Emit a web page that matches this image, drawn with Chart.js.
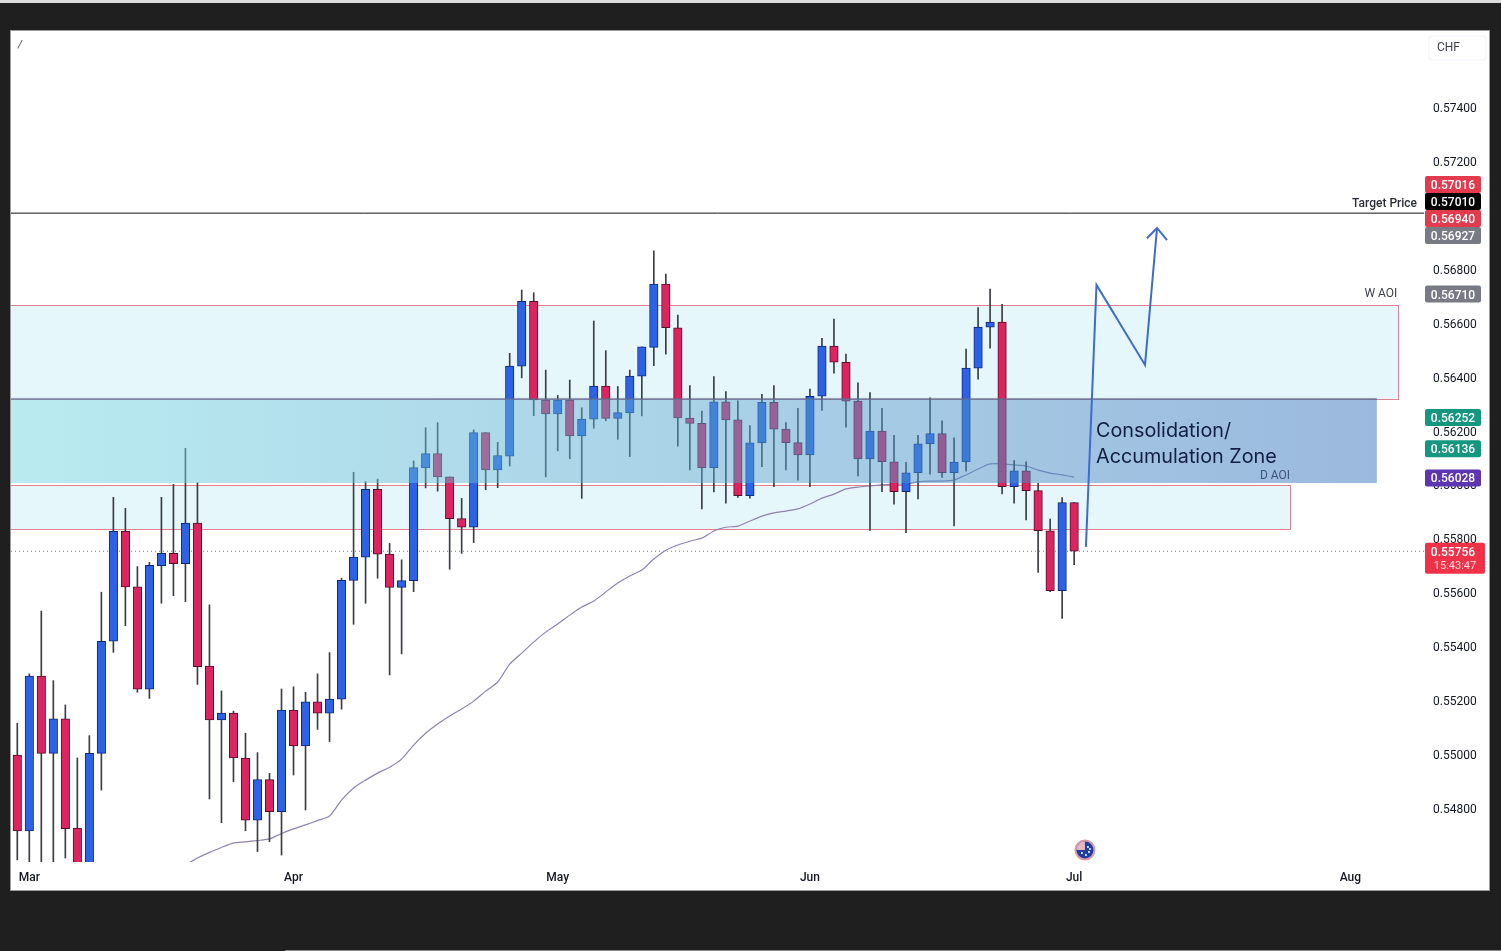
<!DOCTYPE html>
<html>
<head>
<meta charset="utf-8">
<title>AUDCHF</title>
<script src="https://cdn.jsdelivr.net/npm/chart.js@4/dist/chart.umd.min.js"></script>
<style>
  html, body { margin: 0; height: 100%; background: #1f1f1f; overflow: hidden; }
  #topStrip { position: absolute; left: 0; top: 0; width: 1501px; height: 3px; background: #dcdcdc; }
  #bottomStrip { position: absolute; left: 285px; top: 950px; width: 1216px; height: 1px; background: #8a8a8a; }
  #panel { position: absolute; left: 11px; top: 31px; width: 1478px; height: 859px; background: #fff; outline: 1px solid #9a9a9a; }
  canvas { display: block; }
</style>
</head>
<body>
<div id="topStrip"></div>
<div id="bottomStrip"></div>
<div id="panel"><canvas id="priceChart" width="1478" height="859"></canvas></div>
<script>
// daily candles, oldest first
const opens = [
  0.55000, 0.54719, 0.55293, 0.55006, 0.55134, 0.54729, 0.54560, 0.55006, 0.55422, 0.55830,
  0.55624, 0.55244, 0.55702, 0.55748, 0.55710, 0.55860, 0.55330, 0.55130, 0.55156, 0.54989,
  0.54758, 0.54909, 0.54790, 0.55167, 0.55034, 0.55197, 0.55155, 0.55207, 0.55648, 0.55734,
  0.55986, 0.55745, 0.55622, 0.55647, 0.56065, 0.56118, 0.56032, 0.55877, 0.55845, 0.56196,
  0.56058, 0.56109, 0.56442, 0.56683, 0.56317, 0.56265, 0.56317, 0.56184, 0.56246, 0.56369,
  0.56249, 0.56269, 0.56405, 0.56512, 0.56747, 0.56585, 0.56250, 0.56230, 0.56066, 0.56310,
  0.56243, 0.55962, 0.56158, 0.56308, 0.56209, 0.56159, 0.56113, 0.56331, 0.56517, 0.56457,
  0.56313, 0.56098, 0.56202, 0.56088, 0.55977, 0.56047, 0.56154, 0.56192, 0.56047, 0.56087,
  0.56435, 0.56587, 0.56606, 0.55995, 0.56054, 0.55981, 0.55832, 0.55610, 0.55936
];
const highs = [
  0.55118, 0.55301, 0.55534, 0.55276, 0.55186, 0.54989, 0.55072, 0.55604, 0.55956, 0.55915,
  0.55699, 0.55715, 0.55956, 0.56004, 0.56138, 0.56010, 0.55557, 0.55238, 0.55163, 0.55081,
  0.55009, 0.54932, 0.55245, 0.55253, 0.55233, 0.55301, 0.55380, 0.55656, 0.56049, 0.56014,
  0.56023, 0.55785, 0.55724, 0.56091, 0.56214, 0.56233, 0.56032, 0.55952, 0.56206, 0.56196,
  0.56160, 0.56490, 0.56725, 0.56715, 0.56428, 0.56334, 0.56391, 0.56288, 0.56610, 0.56500,
  0.56367, 0.56428, 0.56514, 0.56870, 0.56784, 0.56632, 0.56370, 0.56276, 0.56404, 0.56348,
  0.56314, 0.56222, 0.56338, 0.56370, 0.56233, 0.56286, 0.56357, 0.56546, 0.56617, 0.56487,
  0.56381, 0.56344, 0.56286, 0.56186, 0.56086, 0.56186, 0.56325, 0.56240, 0.56177, 0.56506,
  0.56660, 0.56728, 0.56672, 0.56092, 0.56088, 0.56008, 0.55875, 0.55955, 0.55936
];
const lows = [
  0.54611, 0.54570, 0.54570, 0.54580, 0.54618, 0.54500, 0.54500, 0.54870, 0.55381, 0.55480,
  0.55233, 0.55210, 0.55563, 0.55591, 0.55569, 0.55262, 0.54837, 0.54749, 0.54901, 0.54719,
  0.54642, 0.54679, 0.54629, 0.54926, 0.54796, 0.55095, 0.55050, 0.55170, 0.55485, 0.55563,
  0.55656, 0.55297, 0.55375, 0.55606, 0.55991, 0.55979, 0.55689, 0.55748, 0.55788, 0.55984,
  0.55992, 0.56072, 0.56399, 0.56259, 0.56032, 0.56128, 0.56099, 0.55952, 0.56212, 0.56240,
  0.56171, 0.56107, 0.56258, 0.56444, 0.56487, 0.56146, 0.56058, 0.55913, 0.55976, 0.55934,
  0.55956, 0.55953, 0.56070, 0.55995, 0.56058, 0.56020, 0.55995, 0.56278, 0.56416, 0.56216,
  0.56035, 0.55833, 0.55977, 0.55931, 0.55825, 0.55950, 0.56042, 0.56030, 0.55850, 0.56053,
  0.56394, 0.56509, 0.55969, 0.55934, 0.55872, 0.55677, 0.55606, 0.55507, 0.55706
];
const closes = [
  0.54719, 0.55293, 0.55006, 0.55134, 0.54727, 0.54560, 0.55006, 0.55422, 0.55830, 0.55624,
  0.55244, 0.55704, 0.55748, 0.55710, 0.55860, 0.55328, 0.55130, 0.55156, 0.54989, 0.54758,
  0.54909, 0.54790, 0.55167, 0.55034, 0.55197, 0.55155, 0.55208, 0.55648, 0.55734, 0.55986,
  0.55745, 0.55622, 0.55647, 0.56066, 0.56118, 0.56032, 0.55877, 0.55845, 0.56196, 0.56058,
  0.56111, 0.56443, 0.56683, 0.56317, 0.56265, 0.56317, 0.56184, 0.56246, 0.56369, 0.56249,
  0.56270, 0.56406, 0.56514, 0.56747, 0.56585, 0.56250, 0.56230, 0.56066, 0.56310, 0.56243,
  0.55962, 0.56158, 0.56308, 0.56209, 0.56159, 0.56113, 0.56331, 0.56517, 0.56457, 0.56313,
  0.56098, 0.56202, 0.56088, 0.55977, 0.56047, 0.56154, 0.56192, 0.56047, 0.56087, 0.56435,
  0.56587, 0.56606, 0.55995, 0.56054, 0.55981, 0.55832, 0.55610, 0.55936, 0.55756
];

// moving average, starts at candle 14
const maStart = 14;
const maValues = [
  0.54592, 0.54618, 0.54639, 0.54657, 0.54674, 0.54678, 0.54683, 0.54689, 0.54709, 0.54726,
  0.54741, 0.54757, 0.54774, 0.54833, 0.54878, 0.54907, 0.54933, 0.54955, 0.54985, 0.55037,
  0.55081, 0.55115, 0.55145, 0.55171, 0.55200, 0.55237, 0.55271, 0.55337, 0.55378, 0.55419,
  0.55456, 0.55486, 0.55519, 0.55549, 0.55571, 0.55605, 0.55638, 0.55664, 0.55686, 0.55727,
  0.55760, 0.55779, 0.55793, 0.55805, 0.55831, 0.55845, 0.55849, 0.55868, 0.55886, 0.55898,
  0.55905, 0.55913, 0.55931, 0.55953, 0.55968, 0.55987, 0.55994, 0.55998, 0.56002, 0.56005,
  0.56005, 0.56013, 0.56016, 0.56016, 0.56020, 0.56039, 0.56061, 0.56080, 0.56080, 0.56076,
  0.56072, 0.56057, 0.56046, 0.56039, 0.56031
];

// axis ticks
const priceTicks = [0.574, 0.572, 0.570, 0.568, 0.566, 0.564, 0.562, 0.560, 0.558, 0.556, 0.554, 0.552, 0.550, 0.548];
const monthIndex = [1, 23, 45, 66, 88, 111];
const monthLabels = ['Mar', 'Apr', 'May', 'Jun', 'Jul', 'Aug'];
const xMin = -0.5245, xMax = 117.13;
const yMin = 0.546033, yMax = 0.576856;

// drawn levels and the projected path
const targetPrice = 0.5701;
const lastPrice = 0.55756;
const countdown = '15:43:47';
const pathX = [88.98, 89.86, 93.9, 94.9];
const pathY = [0.55772, 0.56744, 0.56447, 0.56955];
const headX = [94.06, 94.9, 95.73];
const headY = [0.56917, 0.56955, 0.56910];

// zones: weekly and daily areas of interest, and the consolidation band
const weeklyZone = { x1: xMin, x2: 114.96, top: 0.56669, bottom: 0.56321 };
const dailyZone = { x1: xMin, x2: 105.97, top: 0.56002, bottom: 0.55838 };
const consolidationZone = { x1: xMin, x2: 113.2, top: 0.56321, bottom: 0.56009 };

// price tags on the axis
const tagPrices = [0.56028, 0.56136, 0.56252, 0.56710, 0.56927, 0.56940, 0.57010, 0.57016];
const tagColors = ['#5e35b1', '#15967f', '#15967f', '#787b86', '#787b86', '#e23b4e', '#000000', '#e23b4e'];

const UP = '#2e62e4', UP_EDGE = '#0c2a78';
const DOWN = '#db2560', DOWN_EDGE = '#5a0c2c';
const WICK = '#3a3d44';
const FONT = 'Roboto, sans-serif';

const bodyData = opens.map((o, i) => ({ x: i, y: [o, closes[i]] }));
const wickData = lows.map((l, i) => ({ x: i, y: [l, highs[i]] }));
const maData = maValues.map((v, i) => ({ x: i + maStart, y: v }));
const toPoints = (xs, ys) => xs.map((x, i) => ({ x: x, y: ys[i] }));

function drawZone(chart, zone, fill, stroke) {
    const { ctx, scales: { x, y } } = chart;
    const left = x.getPixelForValue(zone.x1), right = Math.round(x.getPixelForValue(zone.x2));
    const top = Math.round(y.getPixelForValue(zone.top)), bottom = Math.round(y.getPixelForValue(zone.bottom));
    ctx.fillStyle = fill;
    ctx.fillRect(left, top, right - left, bottom - top);
    ctx.strokeStyle = stroke;
    ctx.lineWidth = 1;
    ctx.strokeRect(left - 1, top + 0.5, right - left + 1.5, bottom - top);
}

function drawTag(ctx, left, top, w, h, color) {
    ctx.fillStyle = color;
    ctx.beginPath();
    ctx.roundRect(left, top, w, h, 2);
    ctx.fill();
}

function drawFlag(ctx, cx, cy) {
    ctx.beginPath();
    ctx.arc(cx, cy, 10.5, 0, Math.PI * 2);
    ctx.fillStyle = '#dd9aa6';
    ctx.fill();
    ctx.beginPath();
    ctx.arc(cx, cy, 8.5, 0, Math.PI * 2);
    ctx.fillStyle = '#1f3f9e';
    ctx.fill();
    ctx.beginPath();
    ctx.moveTo(cx, cy);
    ctx.arc(cx, cy, 8.5, Math.PI, Math.PI * 1.5);
    ctx.fillStyle = '#e7b6c4';
    ctx.fill();
    ctx.fillStyle = '#fff';
    [[-3, 3], [3, -3], [4, 2], [1, 5], [5, -1]].forEach(p => {
        ctx.beginPath();
        ctx.arc(cx + p[0], cy + p[1], 1, 0, Math.PI * 2);
        ctx.fill();
    });
}

// the scales reserve room for half a label and its padding, the plot has to run to the panel edge
function dropScalePadding(scale) {
    scale.paddingLeft = scale.paddingRight = scale.paddingTop = scale.paddingBottom = 0;
}

const overlays = {
    id: 'overlays',
    beforeDatasetsDraw(chart) {
        drawZone(chart, weeklyZone, 'rgba(178,232,243,0.33)', '#e2808c');
        drawZone(chart, dailyZone, 'rgba(178,232,243,0.33)', '#e2808c');
    },
    afterDatasetDraw(chart, args) {
        // the band sits over the candles but under the projected path
        if (chart.data.datasets[args.index].label !== 'bodies') return;
        const { ctx, scales: { x, y } } = chart;
        const left = x.getPixelForValue(consolidationZone.x1), right = x.getPixelForValue(consolidationZone.x2);
        const top = y.getPixelForValue(consolidationZone.top), bottom = y.getPixelForValue(consolidationZone.bottom);
        const grad = ctx.createLinearGradient(left, 0, right, 0);
        grad.addColorStop(0, 'rgba(115,215,225,0.5)');
        grad.addColorStop(1, 'rgba(55,115,189,0.5)');
        ctx.fillStyle = grad;
        ctx.fillRect(left, top, right - left, bottom - top);
        ctx.fillStyle = 'rgba(95,105,140,0.6)';
        ctx.fillRect(left, top - 1, right - left, 2);
    },
    afterDraw(chart) {
        const { ctx, chartArea, scales: { x, y } } = chart;

        // labels on the chart
        ctx.textBaseline = 'middle';
        ctx.fillStyle = '#3c3f47';
        ctx.font = '12px ' + FONT;
        ctx.textAlign = 'center';
        ctx.fillText('W AOI', x.getPixelForValue(113.54), y.getPixelForValue(weeklyZone.top) - 11);
        ctx.fillStyle = '#3f5578';
        ctx.fillText('D AOI', x.getPixelForValue(104.72), y.getPixelForValue(consolidationZone.bottom) - 7);
        ctx.textAlign = 'right';
        ctx.fillStyle = '#2a2e39';
        ctx.font = '500 12px ' + FONT;
        ctx.fillText('Target Price', x.getPixelForValue(116.55), y.getPixelForValue(targetPrice) - 9);
        ctx.textAlign = 'left';
        ctx.fillStyle = '#101f42';
        ctx.font = '19.8px Inter, sans-serif';
        ctx.fillText('Consolidation/', x.getPixelForValue(89.82), y.getPixelForValue(0.56206) + 1);
        ctx.fillText('Accumulation Zone', x.getPixelForValue(89.82), y.getPixelForValue(0.56109) + 1);

        // tags stack upward when their prices are too close
        const axisLeft = chartArea.right + 1;
        let prevTop = Infinity;
        ctx.font = '500 12px ' + FONT;
        ctx.textAlign = 'center';
        tagPrices.forEach((p, i) => {
            const top = Math.min(y.getPixelForValue(p) - 8.5, prevTop - 17);
            prevTop = top;
            drawTag(ctx, axisLeft, top, 56, 17, tagColors[i]);
            ctx.fillStyle = '#fff';
            ctx.fillText(p.toFixed(5), axisLeft + 28, top + 10);
        });

        // last price with the bar countdown
        const lastY = y.getPixelForValue(lastPrice);
        drawTag(ctx, axisLeft, lastY - 8.5, 60, 31, '#ef3248');
        ctx.fillStyle = '#fff';
        ctx.fillText(lastPrice.toFixed(5), axisLeft + 28, lastY + 1.5);
        ctx.font = '11px ' + FONT;
        ctx.fillStyle = '#ffd9dd';
        ctx.fillText(countdown, axisLeft + 30, lastY + 15.5);

        // currency box
        ctx.strokeStyle = '#f0f3fa';
        ctx.lineWidth = 1;
        ctx.beginPath();
        ctx.roundRect(1418, 5, 57, 24, 3);
        ctx.stroke();
        ctx.fillStyle = '#3c3f47';
        ctx.font = '12px ' + FONT;
        ctx.textAlign = 'left';
        ctx.fillText('CHF', 1426, 16.5);

        // cut-off study title in the corner
        ctx.fillStyle = '#444';
        ctx.font = 'italic 10px ' + FONT;
        ctx.fillText('/', 7, 14);

        drawFlag(ctx, x.getPixelForValue(88.9), chartArea.bottom - 12);
    }
};

new Chart(document.getElementById('priceChart'), {
    type: 'bar',
    data: {
        datasets: [
            { type: 'line', label: 'path', order: 0, data: toPoints(pathX, pathY), borderColor: '#3f6cc9', borderWidth: 2, pointRadius: 0, tension: 0 },
            { type: 'line', label: 'head', order: 0, data: toPoints(headX, headY), borderColor: '#3f6cc9', borderWidth: 2, pointRadius: 0, tension: 0 },
            { label: 'bodies', order: 1, grouped: false, barThickness: 8.5, data: bodyData,
              backgroundColor: closes.map((c, i) => c >= opens[i] ? UP : DOWN),
              borderColor: closes.map((c, i) => c >= opens[i] ? UP_EDGE : DOWN_EDGE),
              borderWidth: 1, borderSkipped: false },
            { label: 'wicks', order: 2, grouped: false, barThickness: 1, data: wickData, backgroundColor: WICK },
            { type: 'line', label: 'ma', order: 3, data: maData, borderColor: '#8f82ad', borderWidth: 1.2, pointRadius: 0, tension: 0.2 },
            { type: 'line', label: 'target', order: 4, data: toPoints([xMin, xMax], [targetPrice, targetPrice]), borderColor: '#111', borderWidth: 1, pointRadius: 0 },
            { type: 'line', label: 'last', order: 4, data: toPoints([xMin, xMax], [lastPrice, lastPrice]), borderColor: '#777', borderWidth: 1, borderDash: [1, 3], pointRadius: 0 }
        ]
    },
    options: {
        responsive: false,
        animation: false,
        layout: { autoPadding: false },
        plugins: { legend: { display: false }, tooltip: { enabled: false } },
        scales: {
            x: {
                type: 'linear',
                offset: false,
                min: xMin,
                max: xMax,
                grid: { display: false, drawTicks: false },
                border: { display: false },
                afterBuildTicks(scale) { scale.ticks = monthIndex.map(v => ({ value: v })); },
                afterFit(scale) { scale.height = 28; dropScalePadding(scale); },
                ticks: {
                    autoSkip: false,
                    maxRotation: 0,
                    padding: 9,
                    color: '#131722',
                    font: { family: FONT, size: 12, weight: '500' },
                    callback: v => monthLabels[monthIndex.indexOf(v)]
                }
            },
            y: {
                position: 'right',
                min: yMin,
                max: yMax,
                grid: { display: false, drawTicks: false },
                border: { display: false },
                afterBuildTicks(scale) { scale.ticks = priceTicks.map(v => ({ value: v })); },
                afterFit(scale) { scale.width = 65; dropScalePadding(scale); },
                ticks: {
                    padding: 9,
                    labelOffset: 1,
                    color: '#131722',
                    font: { family: FONT, size: 12 },
                    callback: v => v.toFixed(5)
                }
            }
        }
    },
    plugins: [overlays]
});
</script>
</body>
</html>
